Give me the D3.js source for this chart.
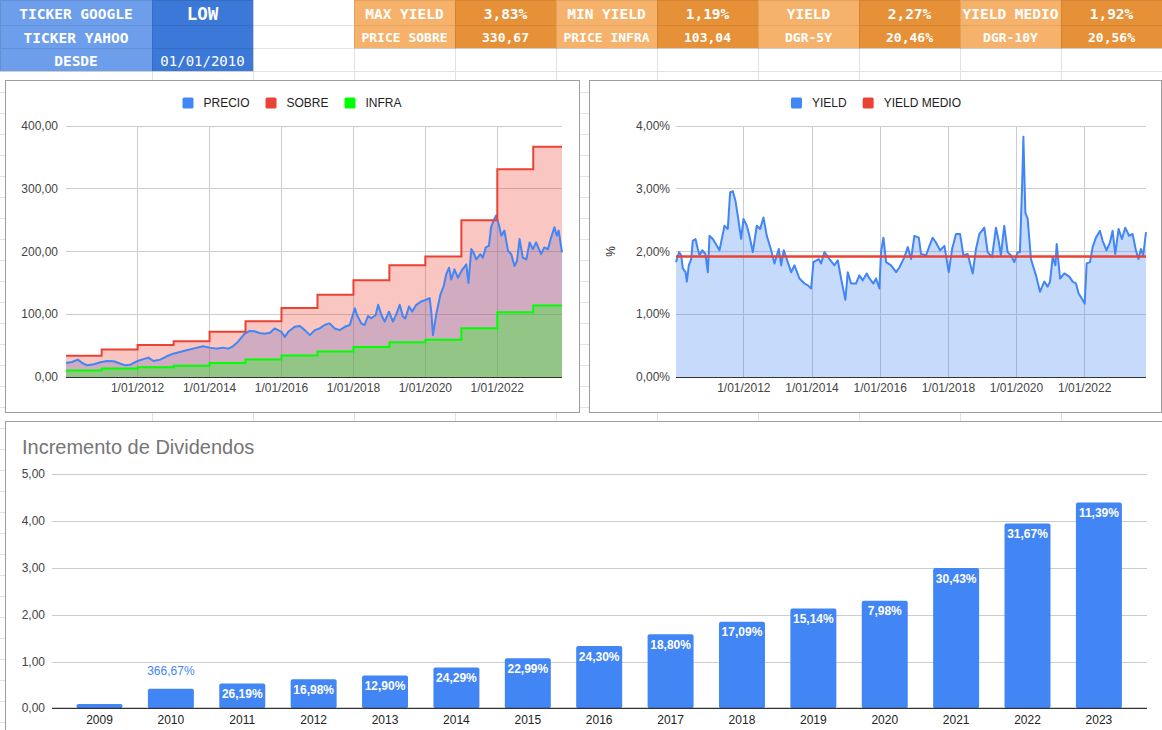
<!DOCTYPE html>
<html lang="es">
<head>
<meta charset="UTF-8">
<title>LOW - Dividendos</title>
<script src="https://d3js.org/d3.v7.min.js"></script>
<style>
  html, body { margin: 0; padding: 0; background: #fff; }
  svg { display: block; font-family: "Liberation Sans", Arial, sans-serif; }
  .cell-txt { font-family: "DejaVu Sans Mono", monospace; font-weight: bold; fill: #fff; }
  .tick-lbl { font-size: 12px; fill: #444; }
  .legend-lbl { font-size: 12px; fill: #222; }
</style>
</head>
<body>
<svg id="sheet" width="1162" height="730"></svg>
<script>
// ---- header cells ----
const leftLabels = ["TICKER GOOGLE", "TICKER YAHOO", "DESDE"];
const leftValues = ["LOW", "", "01/01/2010"];
const statLabels = [["MAX YIELD", "MIN YIELD", "YIELD", "YIELD MEDIO"],
                    ["PRICE SOBRE", "PRICE INFRA", "DGR-5Y", "DGR-10Y"]];
const statValues = [["3,83%", "1,19%", "2,27%", "1,92%"],
                    ["330,67", "103,04", "20,46%", "20,56%"]];

// ---- price chart ----
const startDate = "2010-01-04";
const endDate = "2023-10-20";
const dateTicks = ["2012-01-01", "2014-01-01", "2016-01-01", "2018-01-01", "2020-01-01", "2022-01-01"];
const priceTicks = [0, 100, 200, 300, 400];
const precio = [
  ["2010-01-04", 22.3], ["2010-03-07", 23.9], ["2010-05-04", 27.7], ["2010-06-18", 22.3],
  ["2010-08-08", 18.6], ["2010-10-12", 20.2], ["2010-12-20", 23.4], ["2011-02-24", 25.5],
  ["2011-05-04", 25], ["2011-06-21", 22.3], ["2011-08-29", 18.6], ["2011-10-19", 19.7],
  ["2012-01-01", 25.5], ["2012-03-18", 29.3], ["2012-04-20", 30.9], ["2012-06-10", 25.5],
  ["2012-08-18", 27.7], ["2012-10-23", 33], ["2012-12-28", 37.2], ["2013-03-07", 39.9],
  ["2013-05-12", 42.6], ["2013-07-19", 45.2], ["2013-10-26", 48.9], ["2014-01-04", 46.8],
  ["2014-03-10", 45.2], ["2014-05-18", 46.8], ["2014-07-08", 45.2], ["2014-08-25", 48.9],
  ["2014-10-15", 55.9], ["2014-12-24", 69.1], ["2015-02-13", 73.4], ["2015-04-01", 72.9],
  ["2015-05-22", 70.2], ["2015-07-12", 69.1], ["2015-09-06", 70.5], ["2015-10-23", 77.4],
  ["2015-11-28", 74.7], ["2016-01-01", 72], ["2016-02-03", 64], ["2016-03-10", 72],
  ["2016-05-15", 80], ["2016-07-05", 81.2], ["2016-08-25", 74.7], ["2016-10-15", 66.7],
  ["2016-12-05", 74.7], ["2017-01-23", 77.4], ["2017-03-14", 82.8], ["2017-05-04", 85.5],
  ["2017-06-25", 77.4], ["2017-08-15", 74.7], ["2017-10-05", 80], ["2017-11-25", 82.8],
  ["2018-01-15", 109.7], ["2018-02-06", 98.9], ["2018-03-22", 85.5], ["2018-04-23", 82.8],
  ["2018-05-30", 97.3], ["2018-07-02", 93.5], ["2018-08-15", 98.9], ["2018-09-09", 115],
  ["2018-10-12", 98.9], ["2018-11-14", 88.2], ["2018-12-28", 104], ["2019-02-06", 88.2],
  ["2019-03-10", 98.9], ["2019-04-16", 115], ["2019-05-19", 96.2], ["2019-06-13", 93.5],
  ["2019-07-19", 112.4], ["2019-08-21", 104.3], ["2019-10-01", 115], ["2019-11-21", 120.4],
  ["2020-01-11", 123.1], ["2020-02-14", 125.8], ["2020-03-03", 101.6], ["2020-03-18", 66.7],
  ["2020-04-23", 101.6], ["2020-06-02", 131.2], ["2020-07-05", 144.6], ["2020-07-31", 163.4],
  ["2020-08-29", 174.2], ["2020-09-20", 155.4], ["2020-10-23", 171.5], ["2020-11-28", 158.1],
  ["2020-12-31", 168.8], ["2021-02-20", 179.6], ["2021-03-14", 150], ["2021-04-12", 203.8],
  ["2021-05-04", 198.4], ["2021-06-02", 187.6], ["2021-07-12", 195.7], ["2021-08-07", 190.3],
  ["2021-09-06", 206.5], ["2021-10-08", 209.1], ["2021-10-30", 238.7], ["2021-11-25", 249.5],
  ["2021-12-20", 257.5], ["2022-01-19", 241.4], ["2022-02-10", 225.3], ["2022-03-14", 233.3],
  ["2022-04-20", 201.1], ["2022-05-23", 195.7], ["2022-06-25", 176.9], ["2022-07-20", 184.9],
  ["2022-08-15", 219.9], ["2022-09-17", 190.3], ["2022-10-23", 187.6], ["2022-11-25", 214.5],
  ["2022-12-28", 203.8], ["2023-01-30", 214.5], ["2023-03-22", 195.7], ["2023-04-23", 206.5],
  ["2023-05-30", 203.8], ["2023-07-02", 222.6], ["2023-08-04", 238.7], ["2023-08-29", 225.3],
  ["2023-09-16", 233.3], ["2023-10-20", 198.4]
];
const stepStarts = ["2010-01-04", "2011-01-01", "2012-01-01", "2013-01-01", "2014-01-01",
  "2015-01-01", "2016-01-01", "2017-01-01", "2018-01-01", "2019-01-01", "2020-01-01",
  "2021-01-01", "2022-01-01", "2023-01-01"];
const sobre = [34, 44, 51, 57, 72, 89, 110, 131, 154, 178, 192, 250, 331, 367];
const infra = [10.5, 13.7, 15.7, 17.8, 22.3, 27.8, 34.2, 40.8, 47.7, 55.2, 59.5, 77.6, 103, 114];

// ---- yield chart ----
const yieldTicks = [0, 1, 2, 3, 4];
const yieldMedio = 1.92;
const yieldSerie = [
  ["2010-01-04", 1.83], ["2010-02-06", 1.99], ["2010-03-01", 1.94], ["2010-03-18", 1.73],
  ["2010-04-16", 1.67], ["2010-04-30", 1.52], ["2010-05-21", 1.78], ["2010-06-16", 1.88],
  ["2010-07-03", 2.17], ["2010-08-01", 2.2], ["2010-08-26", 2.04], ["2010-09-13", 1.94],
  ["2010-10-12", 2.02], ["2010-11-16", 1.96], ["2010-12-11", 1.67], ["2010-12-29", 2.25],
  ["2011-02-03", 2.2], ["2011-04-15", 2.02], ["2011-06-08", 2.41], ["2011-07-13", 2.36],
  ["2011-08-07", 2.94], ["2011-09-05", 2.96], ["2011-10-03", 2.81], ["2011-10-28", 2.57],
  ["2011-12-03", 2.2], ["2011-12-28", 2.52], ["2012-02-02", 2.41], ["2012-03-01", 2.25],
  ["2012-04-06", 1.99], ["2012-05-19", 2.41], ["2012-06-24", 2.36], ["2012-07-30", 2.54],
  ["2012-09-03", 2.25], ["2012-10-20", 2.02], ["2012-11-24", 1.81], ["2013-01-10", 2.04],
  ["2013-02-04", 1.78], ["2013-03-04", 2.02], ["2013-04-16", 1.83], ["2013-05-22", 1.67],
  ["2013-06-27", 1.78], ["2013-08-19", 1.57], ["2013-10-12", 1.49], ["2013-11-17", 1.46],
  ["2013-12-22", 1.41], ["2014-01-16", 1.83], ["2014-03-14", 1.88], ["2014-04-08", 1.81],
  ["2014-05-14", 1.99], ["2014-07-07", 1.88], ["2014-08-29", 1.78], ["2014-10-04", 1.86],
  ["2014-11-08", 1.57], ["2014-12-24", 1.23], ["2015-01-19", 1.67], ["2015-02-23", 1.49],
  ["2015-04-17", 1.49], ["2015-05-23", 1.62], ["2015-06-28", 1.54], ["2015-08-10", 1.65],
  ["2015-09-08", 1.57], ["2015-10-21", 1.49], ["2015-11-18", 1.57], ["2015-12-24", 1.41],
  ["2016-01-10", 1.99], ["2016-02-05", 2.22], ["2016-03-05", 1.83], ["2016-04-27", 1.78],
  ["2016-06-20", 1.67], ["2016-07-26", 1.75], ["2016-09-17", 1.91], ["2016-10-23", 2.07],
  ["2016-11-27", 1.88], ["2017-01-02", 2.25], ["2017-02-18", 2.22], ["2017-03-14", 1.96],
  ["2017-05-07", 1.94], ["2017-06-12", 2.09], ["2017-07-17", 2.22], ["2017-08-22", 2.14],
  ["2017-10-04", 2.02], ["2017-11-20", 2.09], ["2018-01-05", 1.67], ["2018-02-10", 2.04],
  ["2018-03-24", 2.28], ["2018-05-06", 2.28], ["2018-06-11", 1.94], ["2018-07-27", 1.96],
  ["2018-09-19", 1.65], ["2018-10-24", 2.04], ["2018-11-29", 2.28], ["2019-01-21", 2.38],
  ["2019-02-26", 1.99], ["2019-04-14", 1.91], ["2019-05-26", 2.38], ["2019-06-24", 2.17],
  ["2019-07-18", 1.94], ["2019-08-23", 2.41], ["2019-09-28", 1.99], ["2019-11-02", 1.94],
  ["2019-12-08", 1.83], ["2020-01-13", 1.99], ["2020-02-07", 1.99], ["2020-03-01", 3.04],
  ["2020-03-15", 3.83], ["2020-04-05", 2.62], ["2020-04-30", 2.52], ["2020-06-04", 1.88],
  ["2020-07-28", 1.62], ["2020-09-09", 1.36], ["2020-10-25", 1.52], ["2020-11-30", 1.44],
  ["2020-12-25", 1.52], ["2021-01-23", 1.91], ["2021-02-21", 1.78], ["2021-03-07", 2.12],
  ["2021-04-12", 1.57], ["2021-05-28", 1.65], ["2021-07-20", 1.6], ["2021-08-25", 1.52],
  ["2021-09-30", 1.49], ["2021-10-28", 1.33], ["2021-12-10", 1.23], ["2022-01-01", 1.17],
  ["2022-01-22", 1.81], ["2022-02-27", 1.83], ["2022-03-27", 2.07], ["2022-05-01", 2.22],
  ["2022-06-13", 2.33], ["2022-07-12", 2.17], ["2022-08-23", 2.02], ["2022-09-28", 2.14],
  ["2022-10-27", 2.33], ["2022-11-24", 1.96], ["2022-12-30", 2.36], ["2023-02-04", 2.2],
  ["2023-03-11", 2.38], ["2023-04-23", 2.25], ["2023-05-29", 2.28], ["2023-07-04", 2.02],
  ["2023-08-01", 1.88], ["2023-08-26", 2.04], ["2023-09-20", 1.94], ["2023-10-20", 2.31]
];

// ---- dividend bars ----
const years = ["2009", "2010", "2011", "2012", "2013", "2014", "2015", "2016",
  "2017", "2018", "2019", "2020", "2021", "2022", "2023"];
const dividendos = [0.09, 0.42, 0.53, 0.62, 0.70, 0.87, 1.07, 1.33, 1.58, 1.85, 2.13, 2.30, 3.00, 3.95, 4.40];
const incrementos = ["", "366,67%", "26,19%", "16,98%", "12,90%", "24,29%", "22,99%", "24,30%",
  "18,80%", "17,09%", "15,14%", "7,98%", "30,43%", "31,67%", "11,39%"];
const divTicks = [0, 1, 2, 3, 4, 5];

const BLUE = "#4285f4", RED = "#ea4335", GREEN = "#00ff00";
const loc = d3.formatLocale({decimal: ",", thousands: ".", grouping: [3], currency: ["", "€"]});
const f2 = loc.format(".2f");
const parse = d3.timeParse("%Y-%m-%d");
const dateFmt = d3.timeFormat("%-m/%d/%Y");

const svg = d3.select("#sheet");

// spreadsheet grid
const colEdges = [0, 152, 253, 354, 455, 556, 657, 758, 859, 960, 1061, 1162];
const rowEdges = [0, 25, 48, 71].concat(d3.range(92, 730, 21));
const grid = svg.append("g").attr("stroke", "#e2e2e2").attr("shape-rendering", "crispEdges");
colEdges.slice(1).forEach(x => grid.append("line").attr("x1", x + 0.5).attr("x2", x + 0.5).attr("y1", 0).attr("y2", 730));
rowEdges.slice(1).forEach(y => grid.append("line").attr("x1", 0).attr("x2", 1162).attr("y1", y + 0.5).attr("y2", y + 0.5));

function cell(col, row, fill, text, size, weight) {
  const x0 = colEdges[col], x1 = colEdges[col + 1], y0 = rowEdges[row], y1 = rowEdges[row + 1];
  svg.append("rect").attr("x", x0).attr("y", y0).attr("width", x1 - x0).attr("height", y1 - y0)
    .attr("fill", fill).attr("stroke", "rgba(0,0,0,0.09)").attr("shape-rendering", "crispEdges");
  if (text) {
    svg.append("text").attr("class", "cell-txt")
      .attr("x", (x0 + x1) / 2).attr("y", (y0 + y1) / 2 + 1)
      .attr("text-anchor", "middle").attr("dominant-baseline", "central")
      .style("font-size", size + "px").style("font-weight", weight || "bold")
      .text(text);
  }
}
leftLabels.forEach((t, i) => cell(0, i, "#6d9eeb", t, 14.5));
leftValues.forEach((t, i) => cell(1, i, "#3c78d8", t, i === 0 ? 17.5 : 14, i === 2 ? "normal" : "bold"));
statLabels.forEach((row, r) => row.forEach((t, k) => {
  cell(3 + 2 * k, r, "#f6b26b", t, r === 0 ? 14.5 : 13);
  cell(4 + 2 * k, r, "#e69138", statValues[r][k], r === 0 ? 14.5 : 13);
}));

// chart frames
function frame(x, y, w, h) {
  svg.append("rect").attr("x", x + 0.5).attr("y", y + 0.5).attr("width", w).attr("height", h)
    .attr("fill", "#fff").attr("stroke", "#9e9e9e");
}
frame(5, 80, 574, 332);
frame(589, 80, 572, 332);
frame(5, 421, 1160, 330);

function legend(items, cx, cy) {
  const g = svg.append("g");
  let x = 0;
  items.forEach(it => {
    g.append("rect").attr("x", x).attr("y", cy - 5.5).attr("width", 11).attr("height", 11)
      .attr("rx", 1.5).attr("fill", it.color);
    const t = g.append("text").attr("class", "legend-lbl").attr("x", x + 21).attr("y", cy)
      .attr("dominant-baseline", "central").text(it.label);
    x += 21 + t.node().getComputedTextLength() + 16;
  });
  g.attr("transform", `translate(${cx - (x - 16) / 2},0)`);
}

function timeAxis(x, y0) {
  const g = svg.append("g");
  dateTicks.map(parse).forEach(d => {
    g.append("text").attr("class", "tick-lbl").attr("x", x(d)).attr("y", y0)
      .attr("text-anchor", "middle").attr("dominant-baseline", "central").text(dateFmt(d));
  });
}

function gridLines(x, y, yTicks) {
  const g = svg.append("g").attr("stroke", "#cccccc").attr("shape-rendering", "crispEdges");
  yTicks.forEach(v => g.append("line").attr("x1", x.range()[0]).attr("x2", x.range()[1])
    .attr("y1", y(v)).attr("y2", y(v)));
  dateTicks.map(parse).forEach(d => g.append("line").attr("x1", x(d)).attr("x2", x(d))
    .attr("y1", y.range()[1]).attr("y2", y.range()[0]));
}

// ---------- left: precio / sobre / infra ----------
const xL = d3.scaleTime().domain([parse(startDate), parse(endDate)]).range([66, 562]);
const yL = d3.scaleLinear().domain([0, 400]).range([377, 126]);
gridLines(xL, yL, priceTicks);
priceTicks.forEach(v => svg.append("text").attr("class", "tick-lbl").attr("x", 58).attr("y", yL(v))
  .attr("text-anchor", "end").attr("dominant-baseline", "central").text(f2(v)));
timeAxis(xL, 388);

const precioPts = precio.map(d => [parse(d[0]), d[1]]);
const stepPts = vals => stepStarts.map((d, i) => [parse(d), vals[i]])
  .concat([[parse(endDate), vals[vals.length - 1]]]);
const sobrePts = stepPts(sobre), infraPts = stepPts(infra);

const areaL = curve => d3.area().curve(curve).x(d => xL(d[0])).y0(yL(0)).y1(d => yL(d[1]));
const lineL = curve => d3.line().curve(curve).x(d => xL(d[0])).y(d => yL(d[1]));

svg.append("path").attr("d", areaL(d3.curveLinear)(precioPts)).attr("fill", BLUE).attr("fill-opacity", 0.3);
svg.append("path").attr("d", areaL(d3.curveStepAfter)(sobrePts)).attr("fill", RED).attr("fill-opacity", 0.3);
svg.append("path").attr("d", areaL(d3.curveStepAfter)(infraPts)).attr("fill", GREEN).attr("fill-opacity", 0.3);
svg.append("line").attr("x1", 66).attr("x2", 562).attr("y1", yL(0)).attr("y2", yL(0))
  .attr("stroke", "#333").attr("shape-rendering", "crispEdges");
svg.append("path").attr("d", lineL(d3.curveLinear)(precioPts)).attr("fill", "none")
  .attr("stroke", BLUE).attr("stroke-width", 2).attr("stroke-linejoin", "round");
svg.append("path").attr("d", lineL(d3.curveStepAfter)(sobrePts)).attr("fill", "none")
  .attr("stroke", RED).attr("stroke-width", 2);
svg.append("path").attr("d", lineL(d3.curveStepAfter)(infraPts)).attr("fill", "none")
  .attr("stroke", GREEN).attr("stroke-width", 2);
legend([{label: "PRECIO", color: BLUE}, {label: "SOBRE", color: RED}, {label: "INFRA", color: GREEN}], 292, 103);

// ---------- right: yield ----------
const xR = d3.scaleTime().domain([parse(startDate), parse(endDate)]).range([676, 1146]);
const yR = d3.scaleLinear().domain([0, 4]).range([377, 126]);
gridLines(xR, yR, yieldTicks);
yieldTicks.forEach(v => svg.append("text").attr("class", "tick-lbl").attr("x", 670).attr("y", yR(v))
  .attr("text-anchor", "end").attr("dominant-baseline", "central").text(f2(v) + "%"));
timeAxis(xR, 388);
svg.append("text").attr("class", "tick-lbl").attr("transform", `translate(611,${yR(2)}) rotate(-90)`)
  .attr("text-anchor", "middle").attr("dominant-baseline", "central").style("fill", "#222").text("%");

const yieldPts = yieldSerie.map(d => [parse(d[0]), d[1]]);
svg.append("path").attr("d", d3.area().x(d => xR(d[0])).y0(yR(0)).y1(d => yR(d[1]))(yieldPts))
  .attr("fill", BLUE).attr("fill-opacity", 0.3);
svg.append("line").attr("x1", 676).attr("x2", 1146).attr("y1", yR(0)).attr("y2", yR(0))
  .attr("stroke", "#333").attr("shape-rendering", "crispEdges");
svg.append("path").attr("d", d3.line().x(d => xR(d[0])).y(d => yR(d[1]))(yieldPts))
  .attr("fill", "none").attr("stroke", BLUE).attr("stroke-width", 2).attr("stroke-linejoin", "round");
svg.append("line").attr("x1", xR(parse(startDate))).attr("x2", xR(parse(endDate)))
  .attr("y1", yR(yieldMedio)).attr("y2", yR(yieldMedio)).attr("stroke", RED).attr("stroke-width", 2.5);
legend([{label: "YIELD", color: BLUE}, {label: "YIELD MEDIO", color: RED}], 876, 103);

// ---------- bottom: incremento de dividendos ----------
svg.append("text").attr("x", 22).attr("y", 447).attr("dominant-baseline", "central")
  .style("font-size", "20px").style("fill", "#757575").text("Incremento de Dividendos");

const xB = d3.scaleBand().domain(years).range([63.8, 1134.6]).paddingInner(0.356).paddingOuter(0.178);
const yB = d3.scaleLinear().domain([0, 5]).range([708.3, 474.3]);
const gB = svg.append("g").attr("stroke", "#cccccc").attr("shape-rendering", "crispEdges");
divTicks.slice(1).forEach(v => gB.append("line").attr("x1", 52).attr("x2", 1147).attr("y1", Math.round(yB(v)) + 0.5).attr("y2", Math.round(yB(v)) + 0.5));
divTicks.forEach(v => svg.append("text").attr("class", "tick-lbl").attr("x", 45).attr("y", yB(v))
  .attr("text-anchor", "end").attr("dominant-baseline", "central").text(f2(v)));

svg.selectAll(".bar").data(years).enter().append("rect").attr("class", "bar")
  .attr("x", d => xB(d)).attr("width", xB.bandwidth())
  .attr("y", (d, i) => yB(dividendos[i])).attr("height", (d, i) => yB(0) - yB(dividendos[i]))
  .attr("rx", 2).attr("fill", BLUE);
svg.append("line").attr("x1", 52).attr("x2", 1147).attr("y1", yB(0)).attr("y2", yB(0))
  .attr("stroke", "#333").attr("stroke-width", 1.2);

years.forEach((yr, i) => {
  const top = yB(dividendos[i]);
  const h = yB(0) - top;
  if (incrementos[i]) {
    const inside = h > 22;
    svg.append("text").attr("x", xB(yr) + xB.bandwidth() / 2).attr("y", inside ? top + 10.6 : top - 18)
      .attr("text-anchor", "middle").attr("dominant-baseline", "central")
      .style("font-size", "12px").style("font-weight", inside ? "bold" : "normal")
      .style("fill", inside ? "#fff" : BLUE).text(incrementos[i]);
  }
  svg.append("text").attr("class", "tick-lbl").attr("x", xB(yr) + xB.bandwidth() / 2).attr("y", 720)
    .attr("text-anchor", "middle").attr("dominant-baseline", "central").style("fill", "#222").text(yr);
});
</script>
</body>
</html>
